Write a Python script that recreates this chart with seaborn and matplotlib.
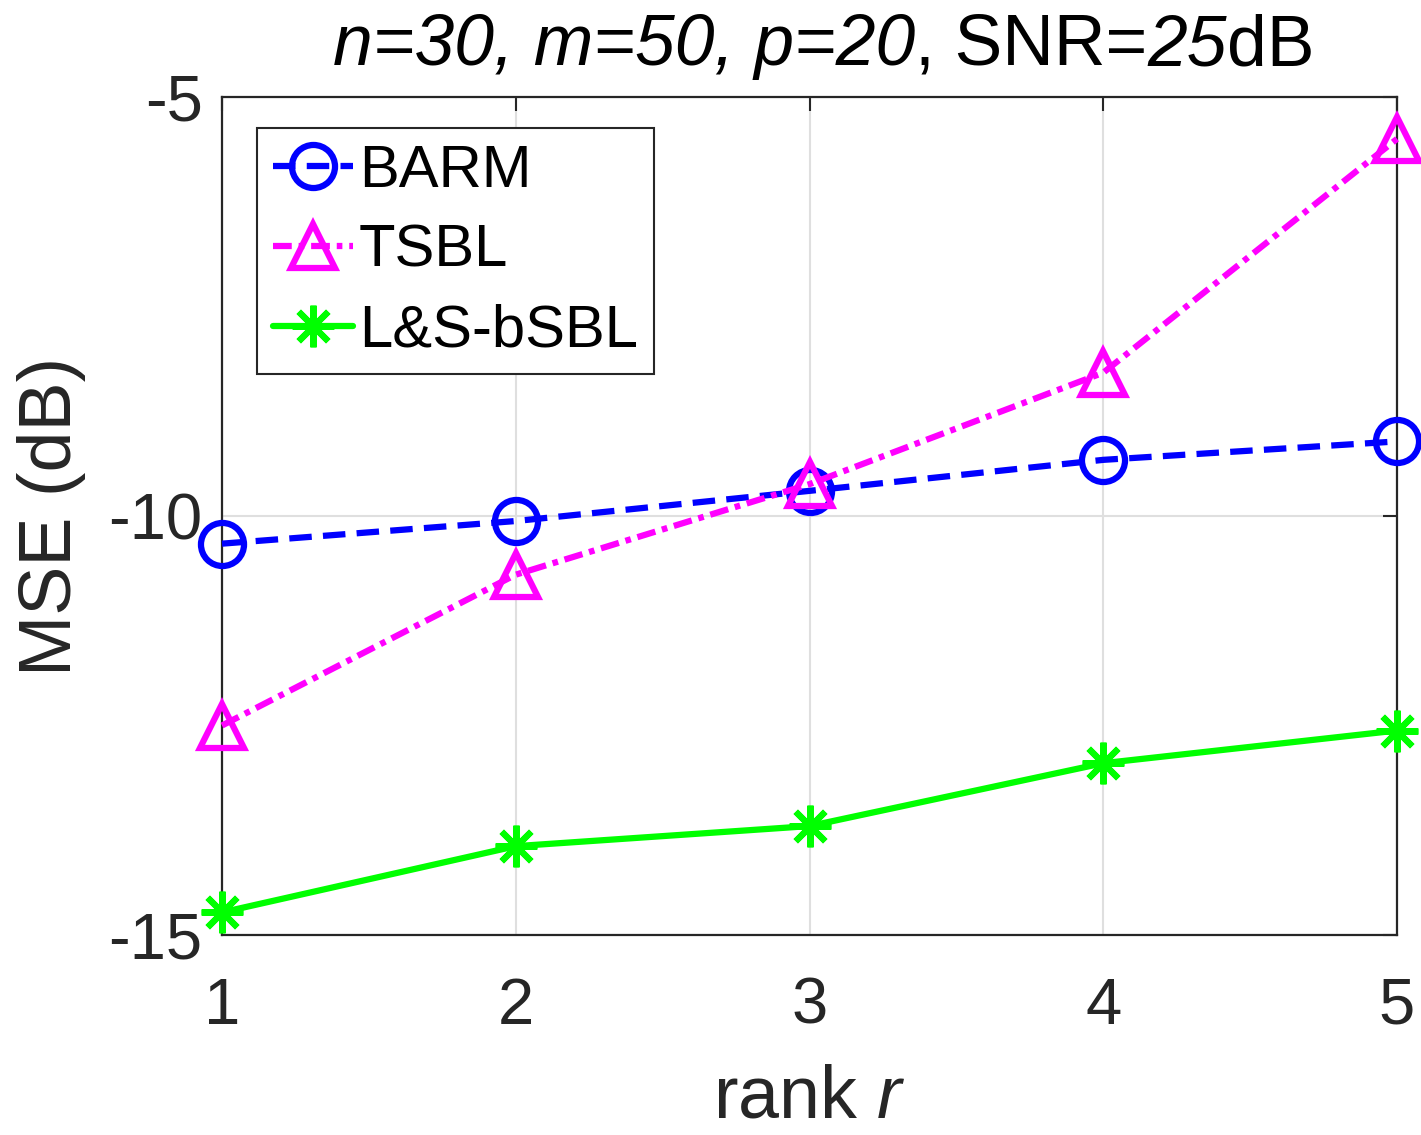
import numpy as np
import pandas as pd
import seaborn as sns
import matplotlib
matplotlib.use("Agg")
import matplotlib.pyplot as plt

# ---- data ----
rank = [1, 2, 3, 4, 5]
barm = [-10.33, -10.06, -9.70, -9.33, -9.11]
tsbl = [-12.50, -10.70, -9.62, -8.29, -5.50]
lsbsbl = [-14.73, -13.94, -13.70, -12.95, -12.56]
series_names = ["BARM", "TSBL", "L&S-bSBL"]
yticks = [-15, -10, -5]
ytick_labels = ["-15", "-10", "-5"]

sns.set_theme(style="white")
plt.rcParams['font.family'] = ['Liberation Sans', 'DejaVu Sans']
plt.rcParams['mathtext.fontset'] = 'custom'
plt.rcParams['mathtext.rm'] = 'Liberation Sans'
plt.rcParams['mathtext.it'] = 'Liberation Sans:italic'
plt.rcParams['axes.unicode_minus'] = False

fig = plt.figure(figsize=(14.21, 11.35), dpi=100)
W, H = 1421, 1135
ax = fig.add_axes([222 / W, 1 - 935 / H, (1397 - 222) / W, (935 - 97) / H])

txt = "#262626"
styles = [
    dict(color=(0, 0, 1), marker="o", linestyle=(0, (3.6, 1.8)), ms=31),
    dict(color=(1, 0, 1), marker="^", linestyle=(0, (3.0, 1.1, 0.9, 1.1)), ms=31),
    dict(color=(0, 1, 0), marker=(8, 2, 0), linestyle="-", ms=30),
]
for name, vals, st in zip(series_names, [barm, tsbl, lsbsbl], styles):
    sns.lineplot(x=rank, y=vals, ax=ax, label=name, color=st["color"],
                 marker=st["marker"], linestyle=st["linestyle"], lw=4.5,
                 ms=st["ms"], mfc="none", mec=st["color"], mew=4.5,
                 clip_on=False, zorder=3)

ax.set_xlim(1, 5)
ax.set_ylim(-15, -5)
ax.set_xticks(rank)
ax.set_xticklabels([str(r) for r in rank])
ax.set_yticks(yticks)
ax.set_yticklabels(ytick_labels)
ax.tick_params(axis="both", which="both", direction="in", length=10, width=1.5,
               colors=txt, labelsize=47, top=True, right=True)
ax.tick_params(axis="x", pad=30)
ax.tick_params(axis="y", pad=14)
ax.grid(True, color="#dfdfdf", lw=1.5)
ax.set_axisbelow(True)
for sp in ax.spines.values():
    sp.set_color(txt)
    sp.set_linewidth(1.6)

ax.set_xlabel("rank $r$", fontsize=53, color=txt, labelpad=19)
ax.set_ylabel("MSE (dB)", fontsize=53, color=txt, labelpad=16)

leg = ax.legend(loc="upper left", bbox_to_anchor=((257 - 222) / 1175, (935 - 128) / 838),
                borderaxespad=0, fontsize=43, frameon=True, fancybox=False,
                handlelength=1.35, handletextpad=0.1, labelspacing=0.42,
                borderpad=0.26, edgecolor="#262626", framealpha=1)
leg.get_frame().set_linewidth(1.5)
for t in leg.get_texts():
    t.set_color("black")

# title built from pieces (italic / upright)
pieces = [("n=30, m=50, p=20", "italic"), (", SNR=", "normal"),
          ("25", "italic"), ("dB", "normal")]
fig.canvas.draw()
renderer = fig.canvas.get_renderer()
objs = []
for s, fs in pieces:
    t = fig.text(0, 1 - 65 / H, s, fontsize=51.5, style=fs, color="black",
                 va="baseline", ha="left")
    objs.append(t)
widths = [o.get_window_extent(renderer).width for o in objs]
total = sum(widths)
x0 = (332 + 1315) / 2 / W - total / 2 / W
for o, w in zip(objs, widths):
    o.set_x(x0)
    x0 += w / W

fig.savefig("out.png", dpi=100, facecolor="white")
